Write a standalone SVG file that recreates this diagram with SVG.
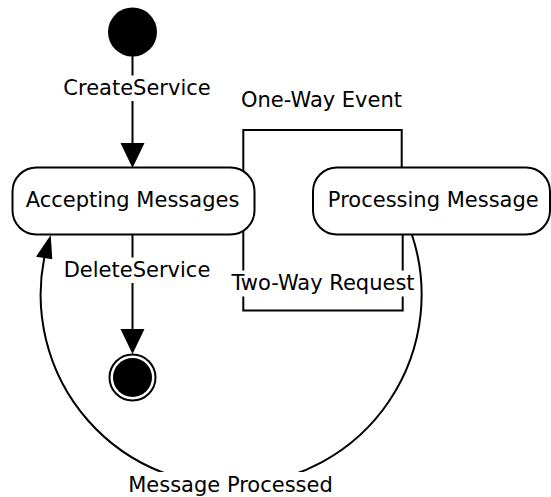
<svg xmlns="http://www.w3.org/2000/svg" width="551" height="497" viewBox="0 0 551 497">
  <style>
    .ln { fill: none; stroke: #000; stroke-width: 2; }
    .node { fill: #fff; stroke: #000; stroke-width: 2; }
    .lbl { font-family: "DejaVu Sans", Verdana, sans-serif; font-size: 21px; fill: #000; text-anchor: middle; }
    .bg { fill: #fff; stroke: none; }
    .head { fill: #000; stroke: none; }
  </style>
  <defs>
    <marker id="arrow" markerUnits="userSpaceOnUse" markerWidth="25" markerHeight="24" refX="0" refY="12" orient="auto" overflow="visible">
      <path class="head" d="M0,0 L25,12 L0,24 Z"/>
    </marker>
  </defs>
  <rect width="551" height="497" fill="#fff"/>

  <g id="connectors">
    <!-- CreateService -->
    <path class="ln" d="M132.5,56 V143" marker-end="url(#arrow)"/>
    <!-- DeleteService -->
    <path class="ln" d="M132.5,235 V329" marker-end="url(#arrow)"/>
    <!-- One-Way Event -->
    <path class="ln" d="M243.3,172 V130 H401.7 V168"/>
    <!-- Two-Way Request -->
    <path class="ln" d="M402.7,234 V310.5 H243.3 V231"/>
    <!-- Message Processed -->
    <path class="ln" d="M411.7,234 A190.5,190.5 0 1 1 44.2,258"/>
    <polygon class="head" points="50.7,235 36,256.7 52.3,259.3"/>

    <g id="label-create">
      <rect class="bg" x="63" y="75.5" width="148" height="25.5"/>
      <text class="lbl" x="137" y="95">CreateService</text>
    </g>
    <g id="label-oneway">
      <rect class="bg" x="240" y="87.5" width="163" height="25.5"/>
      <text class="lbl" x="321.5" y="107">One-Way Event</text>
    </g>
    <g id="label-delete">
      <rect class="bg" x="63" y="257.5" width="148" height="25.5"/>
      <text class="lbl" x="137" y="277">DeleteService</text>
    </g>
    <g id="label-twoway">
      <rect class="bg" x="227" y="270.5" width="192" height="26"/>
      <text class="lbl" x="323" y="290">Two-Way Request</text>
    </g>
    <g id="label-processed">
      <rect class="bg" x="127" y="472" width="207" height="25"/>
      <text class="lbl" x="230.5" y="492">Message Processed</text>
    </g>
  </g>

  <g id="initial">
    <circle cx="132.5" cy="32" r="24.5" fill="#000"/>
  </g>

  <g id="accepting">
    <rect class="node" x="12.5" y="167.5" width="242" height="67" rx="24" ry="24"/>
    <text class="lbl" x="132.5" y="207">Accepting Messages</text>
  </g>

  <g id="processing">
    <rect class="node" x="313" y="167.5" width="237" height="67" rx="24" ry="24"/>
    <text class="lbl" x="433.3" y="207">Processing Message</text>
  </g>

  <g id="final">
    <circle cx="132.5" cy="377.5" r="23" fill="none" stroke="#000" stroke-width="2"/>
    <circle cx="132.5" cy="377.5" r="19.5" fill="#000"/>
  </g>
</svg>
